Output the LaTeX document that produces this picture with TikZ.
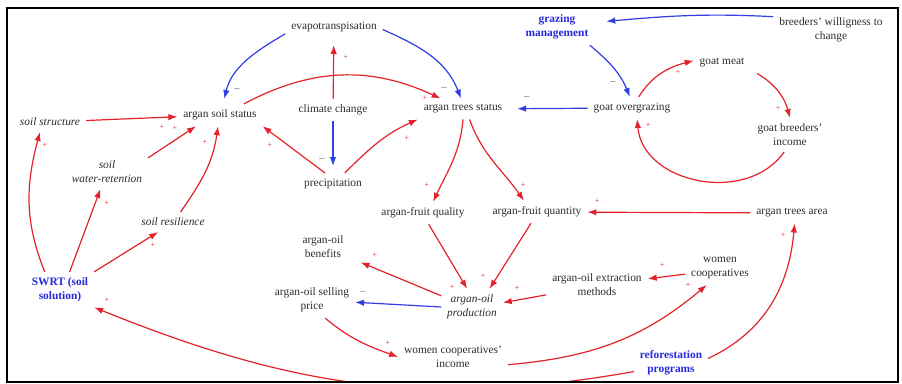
\documentclass[tikz,border=0pt]{standalone}
\usepackage{fontspec}
\setmainfont{Liberation Serif}
\usetikzlibrary{arrows.meta}

\definecolor{cldred}{RGB}{228,34,42}
\definecolor{cldblue}{RGB}{48,62,226}
\definecolor{cldtext}{RGB}{45,45,45}
\definecolor{ctrlblue}{RGB}{40,40,222}

\tikzset{
  lbl/.style={inner sep=2pt, outer sep=4pt, text=cldtext, align=center,
    font=\fontsize{11.4}{14}\selectfont},
  lblit/.style={lbl, font=\fontsize{11.4}{14}\selectfont\itshape},
  lblctl/.style={lbl, text=ctrlblue, font=\fontsize{11.4}{14}\selectfont\bfseries},
  poslink/.style={draw=cldred, line width=1.2pt, -{Latex[length=9pt,width=6.5pt]}},
  neglink/.style={draw=cldblue, line width=1.2pt, -{Latex[length=9pt,width=6.5pt]}},
  plussign/.style={text=cldred, inner sep=0pt, font=\fontsize{8}{8}\selectfont},
  minussign/.style={text=black!85, inner sep=0pt, font=\fontsize{9}{9}\selectfont},
}

\begin{document}
\begin{tikzpicture}[x=1pt, y=1pt]
\useasboundingbox (0,0) rectangle (902,383);
\fill[white] (0,0) rectangle (902,383);

% variables
\node[lbl]    (evap)        at (334,356) {evapotranspisation};
\node[lblctl] (graz)        at (557,356) {grazing\\management};
\node[lbl]    (breeders)    at (831,353) {breeders' willigness to\\change};
\node[lbl]    (goatmeat)    at (722,320) {goat meat};
\node[lbl]    (soilstatus)  at (220,268) {argan soil status};
\node[lbl]    (climate)     at (333,273) {climate change};
\node[lbl]    (treestatus)  at (463,274) {argan trees status};
\node[lbl]    (overgrazing) at (632,275) {goat overgrazing};
\node[lblit]  (soilstruct)  at (50,261)  {soil structure};
\node[lbl]    (goatincome)  at (790,248) {goat breeders'\\income};
\node[lblit]  (waterret)    at (107,211) {soil\\water-retention};
\node[lbl]    (precip)      at (333,199) {precipitation};
\node[lblit]  (resilience)  at (173,161) {soil resilience};
\node[lbl]    (fruitqual)   at (423,170) {argan-fruit quality};
\node[lbl]    (fruitquant)  at (537,171) {argan-fruit quantity};
\node[lbl]    (treesarea)   at (792,170) {argan trees area};
\node[lbl]    (benefits)    at (323,136) {argan-oil\\benefits};
\node[lbl]    (coops)       at (720,115) {women\\cooperatives};
\node[lbl]    (extraction)  at (597,98)  {argan-oil extraction\\methods};
\node[lblctl] (swrt)        at (60,93)   {SWRT (soil\\solution)};
\node[lbl]    (selling)     at (312,83)  {argan-oil selling\\price};
\node[lblit]  (production)  at (472,76)  {argan-oil\\production};
\node[lbl]    (income)      at (453,26)  {women cooperatives'\\income};
\node[lblctl] (refor)       at (671,20)  {reforestation\\programs};

\begin{scope}
\clip (7,1) rectangle (898,375);
% climate and water
\draw[neglink, shorten >=5pt] (evap.188) to[out=210,in=77] (soilstatus.74);
\draw[neglink] (evap.357) to[out=336,in=111] (treestatus.101);
\draw[poslink, shorten >=7pt] (climate) -- (evap);
\draw[poslink] (soilstatus.25) to[out=28,in=155] (treestatus.155);
\draw[poslink] (precip.126) -- (soilstatus.south east);
\draw[neglink, shorten >=7pt] (climate) -- (precip);
\draw[poslink] (precip.43) to[out=45,in=204] (treestatus.south west);
% grazing loop
\draw[neglink, shorten >=9pt] (overgrazing) -- (treestatus);
\draw[neglink] (graz.-29) to[out=-40,in=112] (overgrazing.101);
\draw[neglink, shorten >=12pt] (breeders.167) to[out=177,in=5] (graz.7);
\draw[poslink] (overgrazing.59) to[out=58,in=195] (goatmeat.175);
\draw[poslink, shorten <=8pt] (goatmeat.-13) to[out=-30,in=105] (goatincome.north);
\draw[poslink] (goatincome.251) to[out=235,in=-85,looseness=1.1] (overgrazing.-65);
% fruit and oil
\draw[poslink] (treestatus.south) to[out=265,in=65] (fruitqual.48);
\draw[poslink] (treestatus.-58) to[out=-70,in=125] (fruitquant.139);
\draw[poslink] (treesarea) -- (fruitquant);
\draw[poslink] (refor.7) to[out=25,in=265] (treesarea.-76);
\draw[poslink] (refor.193) to[out=190,in=338] (swrt.-27);
\draw[poslink] (income.-8) to[out=5,in=220] (coops.232);
\draw[poslink] (coops.190) -- (extraction.7);
\draw[poslink] (extraction.191) -- (production.8);
\draw[poslink] (fruitqual.-63) -- (production.105);
\draw[poslink] (fruitquant.242) -- (production.46);
\draw[poslink, shorten >=12pt] (production.160) -- (benefits.-22);
\draw[neglink] (production.west) -- (selling.-3);
\draw[poslink] (selling.-54) to[out=-40,in=160] (income.west);
% soil solution
\draw[poslink] (soilstruct) -- (soilstatus);
\draw[poslink] (swrt.130) to[out=112,in=255] (soilstruct.225);
\draw[poslink] (swrt.62) -- (waterret.249);
\draw[poslink] (swrt.28) -- (resilience.214);
\draw[poslink] (waterret.19) -- (soilstatus.205);
\draw[poslink] (resilience.53) to[out=55,in=262] (soilstatus.260);
\end{scope}

% link polarities
\node[minussign] (s1)  at (237,294) {$-$};
\node[minussign] (s2)  at (444,295) {$-$};
\node[plussign]  (s3)  at (346,326) {+};
\node[plussign]  (s4)  at (425,285) {+};
\node[plussign]  (s5)  at (270,238) {+};
\node[minussign] (s6)  at (322,224) {$-$};
\node[plussign]  (s7)  at (407,245) {+};
\node[minussign] (s8)  at (527,286) {$-$};
\node[minussign] (s9)  at (613,301) {$-$};
\node[plussign]  (s11) at (678,311) {+};
\node[plussign]  (s12) at (778,275) {+};
\node[plussign]  (s13) at (648,258) {+};
\node[plussign]  (s14) at (427,198) {+};
\node[plussign]  (s15) at (523,198) {+};
\node[plussign]  (s16) at (597,182) {+};
\node[plussign]  (s17) at (783,148) {+};
\node[plussign]  (s18) at (107,83)  {+};
\node[plussign]  (s19) at (688,98)  {+};
\node[plussign]  (s20) at (662,118) {+};
\node[plussign]  (s21) at (517,95)  {+};
\node[plussign]  (s22) at (452,96)  {+};
\node[plussign]  (s23) at (483,107) {+};
\node[plussign]  (s24) at (375,128) {+};
\node[minussign] (s25) at (363,91)  {$-$};
\node[plussign]  (s26) at (388,40)  {+};
\node[plussign]  (s27) at (162,256) {+};
\node[plussign]  (s28) at (45,238)  {+};
\node[plussign]  (s29) at (107,180) {+};
\node[plussign]  (s30) at (153,138) {+};
\node[plussign]  (s31) at (175,255) {+};
\node[plussign]  (s32) at (205,241) {+};

% frame
\draw[line width=2pt, black] (7,1) rectangle (898,375);
\end{tikzpicture}
\end{document}
